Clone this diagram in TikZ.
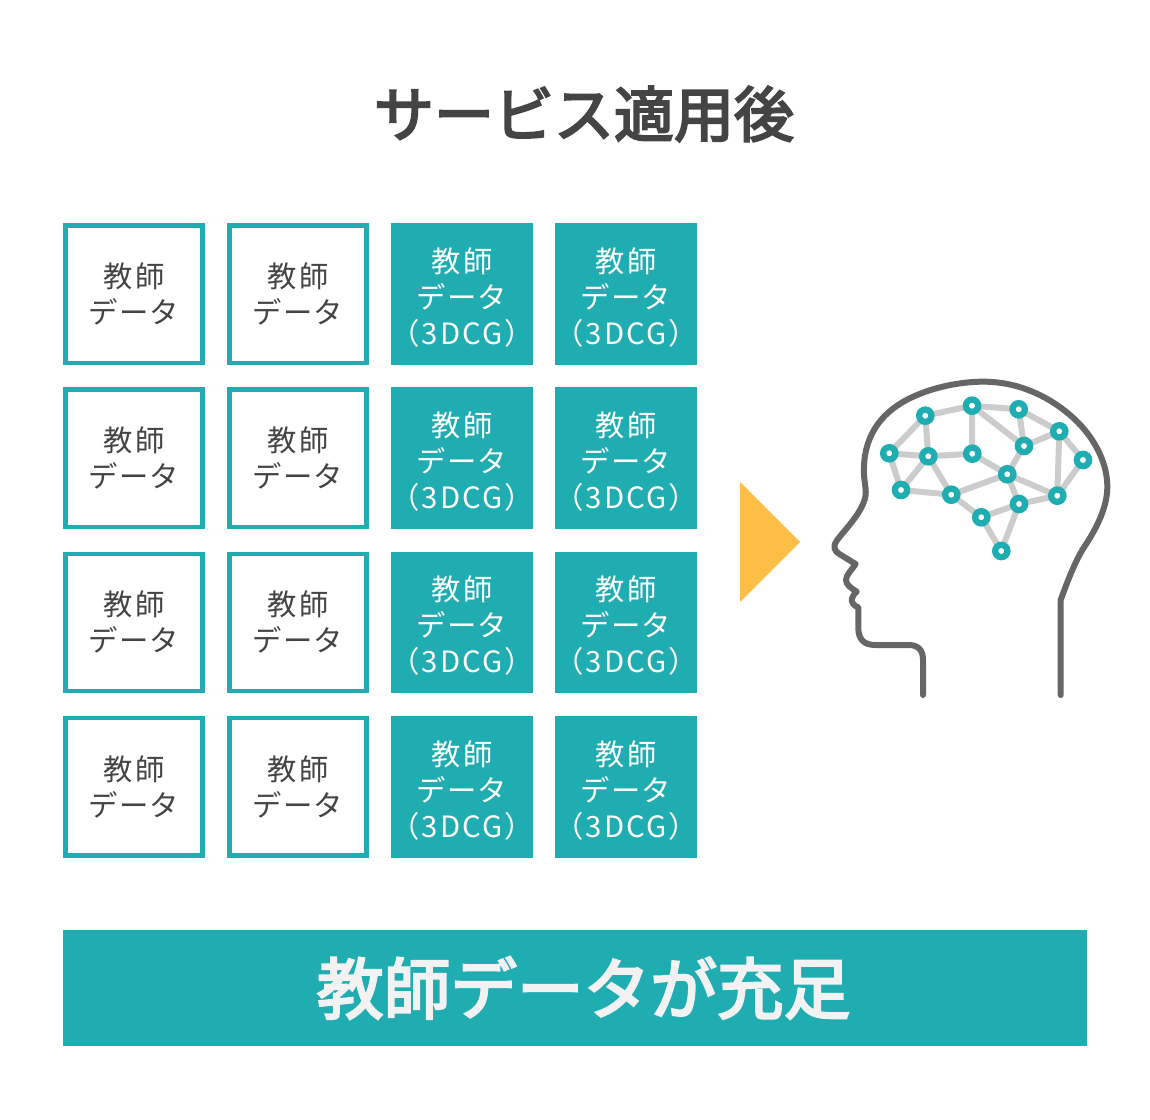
\documentclass[tikz,border=0pt]{standalone}
\usepackage{fontspec}
\setmainfont{Noto Sans CJK JP}[LetterSpace=7]
\newfontfamily\medfont{Noto Sans CJK JP}[FakeBold=3.5]
\newfontfamily\tightfont{Noto Sans CJK JP}[LetterSpace=4]
\usetikzlibrary{backgrounds}
\definecolor{tealc}{HTML}{1FADB2}
\definecolor{inkc}{HTML}{444444}
\definecolor{headc}{HTML}{666666}
\definecolor{linkc}{HTML}{CCCCCC}
\definecolor{arrowc}{HTML}{FFBF47}
\definecolor{paperc}{HTML}{F2F2F2}
\newcommand{\downstrut}{\rule{0pt}{24pt}}
\newcommand{\wideline}[1]{\makebox[100pt][c]{#1}}
\tikzset{
  cell/.style={minimum size=137.2*.75pt,inner sep=0pt,align=center,line width=4.5*.75pt,
    font=\fontsize{22}{27}\selectfont},
  whitebox/.style={cell,draw=tealc,fill=white,text=inkc},
  tealbox/.style={cell,draw=tealc,fill=tealc,text=white},
  synapse/.style={circle,draw=tealc,fill=white,line width=6.3*.75pt,minimum size=12.3*.75pt,inner sep=0pt},
  link/.style={draw=linkc,line width=6*.75pt},
  headline/.style={draw=headc,line width=6*.75pt,line cap=round,line join=round}
}
\begin{document}
\begin{tikzpicture}[x=.75pt,y=-.75pt]
\useasboundingbox (0,0) rectangle (1150,1120);
\node[text=inkc,font=\fontsize{45}{50}\selectfont\medfont] (title) at (584,114) {サービス適用後};
\foreach \r/\yy in {1/294.2,2/458.2,3/622.4,4/786.8}{
  \node[whitebox] (w1\r) at (134,\yy) {教師\\{\tightfont データ}};
  \node[whitebox] (w2\r) at (298,\yy) {教師\\{\tightfont データ}};
  \node[tealbox] (t1\r) at (462,\yy) {\downstrut 教師\\{\tightfont データ}\\\wideline{（3DCG）}};
  \node[tealbox] (t2\r) at (626,\yy) {\downstrut 教師\\{\tightfont データ}\\\wideline{（3DCG）}};
}
\fill[arrowc] (740,482) -- (800,542) -- (740,602) -- cycle;
\foreach \n/\px/\py in {a/925.3/415.7,b/972/405.7,c/1018.7/409.3,d/1059.3/431.3,e/1083/460,f/1024/446,g/889.3/453.3,h/928.3/456.3,i/972.3/453.7,j/1007.3/474.3,k/901/490,l/951.3/494.7,m/981.3/517.3,n/1019/504,o/1057.3/495.7,p/1001.3/551}{
  \node[synapse] (\n) at (\px,\py) {};
}
\begin{scope}[on background layer]
\foreach \u/\v in {g/a,a/b,b/c,c/d,d/e,a/h,g/h,h/i,g/k,k/h,k/l,h/l,l/j,i/j,b/i,b/f,c/f,f/d,f/j,j/n,j/o,d/o,e/o,n/o,l/m,m/n,m/p,n/p}{
  \draw[link] (\u.center) -- (\v.center);
}
\end{scope}
\begin{scope}[shift={(820,370)},x=.25pt,y=-.25pt]
\draw[headline] (309,975) -- (309,870) .. controls (309,840) and (295,825) .. (265,825)
 -- (165,825) .. controls (130,825) and (115,805) .. (115,775) -- (115,712)
 .. controls (100,708) and (93,695) .. (96,685) .. controls (98,675) and (105,670) .. (110,665)
 .. controls (95,655) and (78,645) .. (78,630) .. controls (78,615) and (95,600) .. (107,582)
 -- (58,552) .. controls (42,543) and (38,528) .. (50,512)
 .. controls (75,478) and (130,425) .. (137,375) .. controls (139,350) and (130,330) .. (132,290)
 .. controls (135,190) and (190,120) .. (280,80) .. controls (340,52) and (420,35) .. (490,35)
 .. controls (590,35) and (680,75) .. (750,135) .. controls (820,195) and (862,275) .. (862,350)
 .. controls (862,420) and (820,490) .. (790,535) .. controls (765,575) and (740,640) .. (722,690)
 -- (722,975);
\end{scope}
\node[minimum width=1024.5*.75pt,minimum height=116*.75pt,inner sep=0pt,fill=tealc,text=paperc,font=\fontsize{50}{55}\selectfont\medfont] (band) at (575,988) {\hspace{13pt}教師データが充足};
\end{tikzpicture}
\end{document}
